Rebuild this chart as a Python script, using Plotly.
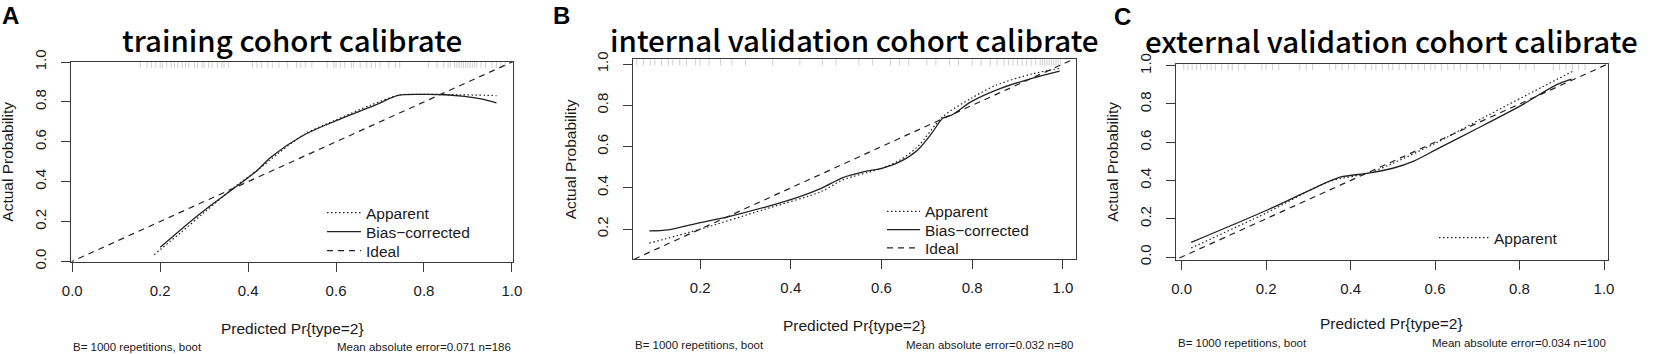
import plotly.graph_objects as go

W, H = 1654, 354

# ---------------- data ----------------
PANEL_LETTERS = ["A", "B", "C"]
TITLES = ["training cohort calibrate",
          "internal validation cohort calibrate",
          "external validation cohort calibrate"]
X_LABEL = "Predicted Pr{type=2}"
Y_LABEL = "Actual Probability"
B_REPS = [1000, 1000, 1000]
MAE = ["0.071", "0.032", "0.034"]
N_OBS = [186, 80, 100]

IDEAL = [-0.1, 1.1]

# Panel A
A_app_x = [0.186, 0.25, 0.30, 0.37, 0.42, 0.47, 0.53, 0.60, 0.68, 0.745, 0.80, 0.88, 0.965]
A_app_y = [0.033, 0.150, 0.245, 0.375, 0.455, 0.545, 0.640, 0.710, 0.785, 0.835, 0.838, 0.836, 0.832]
A_bc_x = [0.200, 0.25, 0.30, 0.37, 0.42, 0.453, 0.526, 0.599, 0.697, 0.741, 0.798, 0.850, 0.892, 0.930, 0.965]
A_bc_y = [0.070, 0.165, 0.255, 0.370, 0.455, 0.525, 0.633, 0.705, 0.792, 0.833, 0.838, 0.836, 0.828, 0.815, 0.795]
A_rug = [0.155, 0.17, 0.18, 0.19, 0.2, 0.205, 0.215, 0.225, 0.232, 0.24, 0.25, 0.258, 0.265,
         0.278, 0.285, 0.295, 0.30, 0.31, 0.318, 0.33, 0.34, 0.345, 0.355, 0.41, 0.42, 0.43,
         0.445, 0.455, 0.47, 0.49, 0.51, 0.52, 0.53, 0.545, 0.58, 0.595, 0.6, 0.61, 0.62,
         0.635, 0.64, 0.655, 0.67, 0.68, 0.69, 0.70, 0.72, 0.735, 0.745, 0.81, 0.83, 0.845,
         0.855, 0.86, 0.87, 0.875, 0.88, 0.885, 0.89, 0.895, 0.90, 0.905, 0.91, 0.915, 0.92,
         0.93, 0.94, 0.955, 0.965, 0.975, 0.985]

# Panel B
B_app_x = [0.088, 0.20, 0.342, 0.467, 0.515, 0.601, 0.641, 0.68, 0.735, 0.798, 0.853, 0.932, 0.993]
B_app_y = [0.132, 0.200, 0.296, 0.382, 0.439, 0.495, 0.535, 0.600, 0.745, 0.834, 0.898, 0.952, 0.979]
B_bc_x = [0.088, 0.129, 0.20, 0.263, 0.342, 0.42, 0.467, 0.515, 0.562, 0.601, 0.641, 0.68,
          0.711, 0.735, 0.755, 0.798, 0.853, 0.932, 0.993]
B_bc_y = [0.192, 0.197, 0.232, 0.261, 0.306, 0.358, 0.398, 0.450, 0.479, 0.495, 0.527, 0.584,
          0.665, 0.737, 0.753, 0.818, 0.874, 0.931, 0.966]
B_rug = [0.06, 0.075, 0.09, 0.1, 0.115, 0.13, 0.14, 0.155, 0.17, 0.19, 0.2, 0.22, 0.245, 0.27,
         0.3, 0.36, 0.42, 0.47, 0.5, 0.55, 0.58, 0.62, 0.64, 0.66, 0.7, 0.72, 0.75, 0.77, 0.8,
         0.82, 0.84, 0.855, 0.87, 0.88, 0.89, 0.9, 0.91, 0.92, 0.93, 0.94, 0.95, 0.955, 0.96,
         0.965, 0.97, 0.975, 0.98, 0.985, 0.99, 0.995]

# Panel C
C_app_x = [0.0226, 0.20, 0.35, 0.442, 0.50, 0.601, 0.727, 0.852, 0.927]
C_app_y = [0.047, 0.230, 0.395, 0.438, 0.490, 0.595, 0.743, 0.887, 0.972]
C_bc_x = [0.0226, 0.20, 0.309, 0.375, 0.442, 0.50, 0.551, 0.601, 0.693, 0.802, 0.886, 0.923]
C_bc_y = [0.0765, 0.243, 0.355, 0.417, 0.438, 0.464, 0.503, 0.560, 0.664, 0.790, 0.899, 0.930]
C_rug = [0.005, 0.015, 0.025, 0.035, 0.045, 0.06, 0.07, 0.08, 0.095, 0.11, 0.12, 0.135, 0.15,
         0.19, 0.2, 0.215, 0.23, 0.28, 0.295, 0.31, 0.35, 0.365, 0.38, 0.395, 0.41, 0.435,
         0.45, 0.46, 0.475, 0.49, 0.5, 0.515, 0.53, 0.545, 0.56, 0.575, 0.59, 0.6, 0.615,
         0.63, 0.645, 0.66, 0.675, 0.7, 0.715, 0.73, 0.755, 0.8, 0.815, 0.835, 0.88, 0.895,
         0.91, 0.925, 0.94, 0.955]

X_TICKS = [[0.0, 0.2, 0.4, 0.6, 0.8, 1.0], [0.2, 0.4, 0.6, 0.8, 1.0], [0.0, 0.2, 0.4, 0.6, 0.8, 1.0]]
Y_TICKS = [[0.0, 0.2, 0.4, 0.6, 0.8, 1.0], [0.2, 0.4, 0.6, 0.8, 1.0], [0.0, 0.2, 0.4, 0.6, 0.8, 1.0]]
LEGEND_NAMES = ["Apparent", "Bias\u2212corrected", "Ideal"]

# ---------------- layout geometry (pixels) ----------------
BOX = [  # left, right, top, bottom
    (71.4, 513.2, 61.7, 261.7),
    (633.0, 1076.0, 59.3, 259.3),
    (1175.7, 1607.8, 64.0, 259.5),
]
XR = [[-0.002, 1.003], [0.052, 1.029], [-0.014, 1.009]]
YR = [[-0.002, 1.002], [0.054, 1.023], [-0.013, 1.009]]
LEG_X = [322, 882, 1434]
LEG_W = [34, 33, 50]
LEG_Y = [[213, 232, 251], [211.7, 230, 248.3], [238, None, None]]

SANS = "Liberation Sans, Arial, sans-serif"
TITLE_FONT = "Noto Sans CJK SC, Open Sans, sans-serif"
INK = "#1a1a1a"
LINE = "#222222"


def px(x):
    return x / W


def py(y):
    return 1 - y / H


fig = go.Figure()

panels = [
    (A_app_x, A_app_y, A_bc_x, A_bc_y, A_rug),
    (B_app_x, B_app_y, B_bc_x, B_bc_y, B_rug),
    (C_app_x, C_app_y, C_bc_x, C_bc_y, C_rug),
]

leg_common = dict(xanchor="left", yanchor="middle", bgcolor="rgba(0,0,0,0)",
                  font=dict(family=SANS, size=15.5, color=INK), borderwidth=0)
legends = {}
k = 0
for i, (ax_, ay_, bx_, by_, rug) in enumerate(panels):
    xa = "x" if i == 0 else f"x{i+1}"
    ya = "y" if i == 0 else f"y{i+1}"
    top = YR[i][1]
    fig.add_trace(go.Scatter(
        x=rug, y=[top] * len(rug), mode="markers", xaxis=xa, yaxis=ya,
        marker=dict(symbol="line-ns", size=9, line=dict(width=0.8, color="#c4c4c4")),
        showlegend=False, hoverinfo="skip"))
    series = [
        (ax_, ay_, dict(color=LINE, width=1.2, dash="1.5px,2.5px", shape="spline", smoothing=0.8)),
        (bx_, by_, dict(color=LINE, width=1.3, shape="spline", smoothing=0.8)),
        (IDEAL, IDEAL, dict(color=LINE, width=1.2, dash="6px,5px")),
    ]
    for j, (sx, sy, ln) in enumerate(series):
        show = LEG_Y[i][j] is not None
        lg = None
        if show:
            k += 1
            lg = "legend" if k == 1 else f"legend{k}"
            legends[lg] = dict(leg_common, x=px(LEG_X[i]), y=py(LEG_Y[i][j]),
                               itemwidth=LEG_W[i])
        tr = dict(x=sx, y=sy, mode="lines", name=LEGEND_NAMES[j], xaxis=xa, yaxis=ya,
                  line=ln, showlegend=show, hoverinfo="skip")
        if lg:
            tr["legend"] = lg
        fig.add_trace(go.Scatter(**tr))

axis_common = dict(
    showgrid=False, zeroline=False, showline=True, mirror=True, automargin=False,
    linecolor="#3a3a3a", linewidth=1, ticks="outside", ticklen=9,
    tickcolor="#3a3a3a", tickwidth=1,
    tickfont=dict(family=SANS, size=15, color=INK),
)

layout_axes = {}
for i in range(3):
    l, r, t, b = BOX[i]
    xk = "xaxis" if i == 0 else f"xaxis{i+1}"
    yk = "yaxis" if i == 0 else f"yaxis{i+1}"
    xa = "x" if i == 0 else f"x{i+1}"
    ya = "y" if i == 0 else f"y{i+1}"
    layout_axes[xk] = dict(axis_common, domain=[px(l), px(r)], range=XR[i], anchor=ya,
                           tickvals=X_TICKS[i], ticktext=[f"{v:.1f}" for v in X_TICKS[i]],
                           ticklabelstandoff=6)
    layout_axes[yk] = dict(axis_common, domain=[py(b), py(t)], range=YR[i], anchor=xa,
                           tickvals=Y_TICKS[i], ticktext=[f"{v:.1f}" for v in Y_TICKS[i]],
                           tickangle=-90, ticklabelstandoff=9)

annotations = []
LETTER_POS = [(0, 0), (551, 0), (1112, 1)]
TITLE_Y = [39, 39, 40]
YLAB_X = [8, 570, 1113]
XLAB_Y = [328, 325, 323]
FOOT_Y = [346.5, 345, 343]


def ann(**kw):
    kw.setdefault("xref", "paper")
    kw.setdefault("yref", "paper")
    kw.setdefault("showarrow", False)
    annotations.append(kw)


for i in range(3):
    l, r, t, b = BOX[i]
    ann(text=f"<b>{PANEL_LETTERS[i]}</b>", x=px(LETTER_POS[i][0]), y=py(LETTER_POS[i][1]),
        xanchor="left", yanchor="top", font=dict(family=SANS, size=24, color="#000"))
    ann(text=TITLES[i], x=px((l + r) / 2), y=py(TITLE_Y[i]), xanchor="center", yanchor="middle",
        font=dict(family=TITLE_FONT, size=29.5, color="#000", weight=500))
    ann(text=Y_LABEL, x=px(YLAB_X[i]), y=py((t + b) / 2), textangle=-90,
        xanchor="center", yanchor="middle", font=dict(family=SANS, size=15.5, color=INK))
    ann(text=X_LABEL, x=px((l + r) / 2), y=py(XLAB_Y[i]), xanchor="center", yanchor="middle",
        font=dict(family=SANS, size=15.5, color=INK))
    ann(text=f"B= {B_REPS[i]} repetitions, boot", x=px(l), y=py(FOOT_Y[i]),
        xanchor="left", yanchor="middle", font=dict(family=SANS, size=11.5, color=INK))
    ann(text=f"Mean absolute error={MAE[i]} n={N_OBS[i]}", x=px(r), y=py(FOOT_Y[i]),
        xanchor="right", yanchor="middle", font=dict(family=SANS, size=11.5, color=INK))

fig.update_layout(
    template="none",
    width=W, height=H, autosize=False,
    margin=dict(l=0, r=0, t=0, b=0, pad=0),
    paper_bgcolor="white", plot_bgcolor="white",
    hovermode=False,
    annotations=annotations,
    **legends,
    **layout_axes,
)

fig.write_html("out.html",
               config={"displayModeBar": False, "staticPlot": True},
               post_script="document.body.style.margin='0px';document.body.style.overflow='hidden';")
